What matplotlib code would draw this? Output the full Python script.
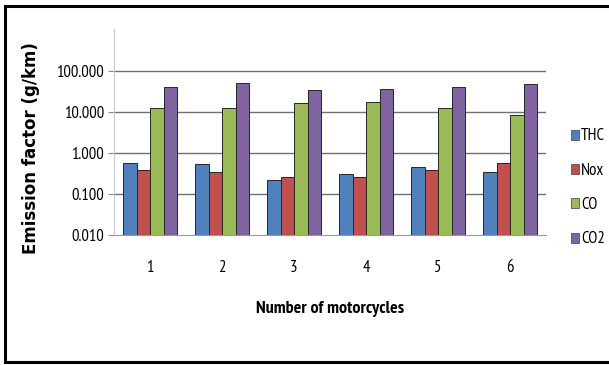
import matplotlib.pyplot as plt
import numpy as np
from matplotlib.patches import Patch
from matplotlib.lines import Line2D

motorcycles = ["1", "2", "3", "4", "5", "6"]
series_names = ["THC", "Nox", "CO", "CO2"]
thc = [0.57, 0.52, 0.22, 0.31, 0.45, 0.34]
nox = [0.38, 0.34, 0.26, 0.26, 0.38, 0.57]
co = [12.6, 12.0, 16.4, 17.4, 12.6, 8.5]
co2 = [39.0, 49.0, 33.6, 35.5, 39.0, 47.0]
y_ticks = [0.01, 0.1, 1, 10, 100]
y_tick_labels = ["0.010", "0.100", "1.000", "10.000", "100.000"]

colors = ["#4F81BD", "#C0504D", "#9BBB59", "#8064A2"]
narrow = ["PT Sans Narrow", "DejaVu Sans"]

fig = plt.figure(figsize=(6.09, 3.65), dpi=100)
ax = fig.add_axes([0.1872, 0.3562, 0.7094, 0.563])

x = np.arange(len(motorcycles))
width = 0.1875
ax.set_yscale("log")
for i, (vals, c) in enumerate(zip([thc, nox, co, co2], colors)):
    ax.bar(x + (i - 1.5) * width, vals, width, color=c,
           edgecolor="#262626", linewidth=0.7, zorder=3)

ax.set_ylim(0.01, 1000)
ax.set_xlim(-0.5, len(motorcycles) - 0.5)
ax.set_yticks(y_ticks)
ax.set_yticklabels(y_tick_labels, family=narrow, fontsize=12)
ax.yaxis.set_minor_locator(plt.NullLocator())
ax.set_xticks(x)
ax.set_xticklabels(motorcycles, family=narrow, fontsize=12)
ax.tick_params(axis="x", length=0, pad=18)
ax.tick_params(axis="y", length=4, color="#8a8a8a", pad=3)

for v in y_ticks[1:]:
    ax.axhline(v, color="#707070", linewidth=1.0, zorder=1)

for side in ["top", "right"]:
    ax.spines[side].set_visible(False)
ax.spines["left"].set_color("#c8c8c8")
ax.spines["bottom"].set_color("#9a9a9a")

ax.set_xlabel("Number of motorcycles", family=narrow, fontsize=13,
              fontweight="bold", labelpad=18)
fig.text(0.051, 0.595, "Emission factor (g/km)", rotation=90,
         ha="center", va="center", fontsize=12, fontweight="bold",
         family="DejaVu Sans")

handles = [Patch(facecolor=c, edgecolor="#555555", linewidth=0.6) for c in colors]
fig.legend(handles, series_names, loc="center left",
           bbox_to_anchor=(0.926, 0.485), frameon=False,
           prop={"family": narrow, "size": 12},
           handlelength=0.5, handleheight=0.55, handletextpad=0.12,
           labelspacing=1.1, borderaxespad=0)

# outer frame: left, top and bottom edges
frame = dict(color="black", linewidth=2.2, transform=fig.transFigure)
fig.add_artist(Line2D([0.0082, 0.0082], [0.008, 0.984], **frame))
fig.add_artist(Line2D([0.0082, 1.0], [0.984, 0.984], **frame))
fig.add_artist(Line2D([0.0082, 1.0], [0.008, 0.008], **frame))

fig.savefig("out.png", dpi=100)
